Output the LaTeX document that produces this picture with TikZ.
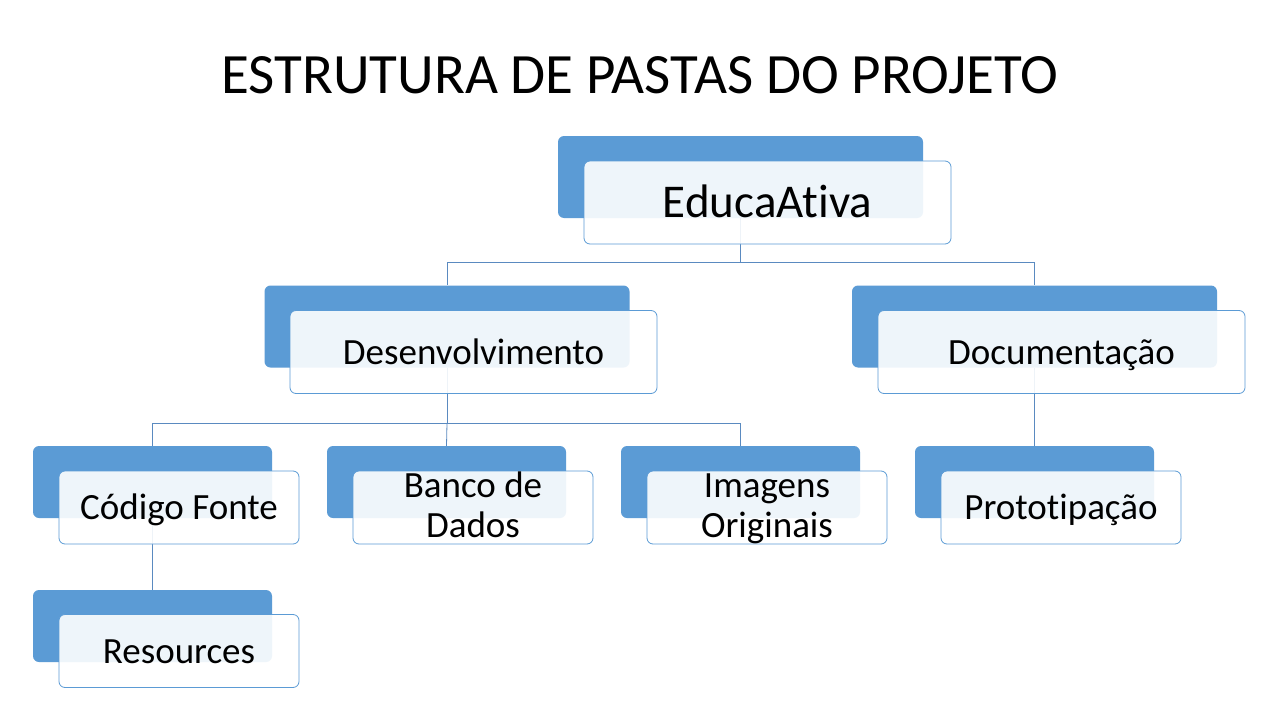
\documentclass[tikz,border=0pt]{standalone}
\usepackage{fontspec}
\setmainfont{Carlito}[Ligatures=CommonOff]
\definecolor{backblue}{HTML}{5B9BD5}
\definecolor{linecol}{HTML}{5A8AC0}
\begin{document}
\begin{tikzpicture}[x=1pt,y=-1pt,
  backbox/.style={rectangle, rounded corners=6pt, fill=backblue, draw=none, inner sep=0pt},
  frontbox/.style={rectangle, rounded corners=6pt, fill=white, fill opacity=0.9, text opacity=1, draw=backblue, line width=0.8pt, inner sep=0pt, align=center, font=\fontsize{37}{40.5}\selectfont},
  oneline/.style={text height=31pt, text depth=7pt},
  twoline/.style={inner ysep=-8pt},
  big/.style={minimum width=365pt, minimum height=82pt},
  bigf/.style={minimum width=367pt, minimum height=83pt},
  small/.style={minimum width=239pt, minimum height=72pt},
  smallf/.style={minimum width=240pt, minimum height=73pt},
  conn/.style={draw=linecol, line width=0.8pt}]
\useasboundingbox (0,0) rectangle (1280,720);
\fill[white] (0,0) rectangle (1280,720);
\node[anchor=base, font=\fontsize{57}{62}\selectfont] (title) at (640,93) {ESTRUTURA DE PASTAS DO PROJETO};
% back boxes
\node[backbox, big] (edub) at (740.5,177) {};
\node[backbox, big] (devb) at (447,326.5) {};
\node[backbox, big] (docb) at (1034.5,326.5) {};
\node[backbox, small] (codb) at (152.5,482) {};
\node[backbox, small] (banb) at (446.5,482) {};
\node[backbox, small] (imgb) at (740.5,482) {};
\node[backbox, small] (prob) at (1034.5,482) {};
\node[backbox, small] (resb) at (152.5,626) {};
% connectors
\coordinate (j1) at (740.5,262);
\coordinate (j2) at (447,423);
\draw[conn] (edub.south) -- (edub.south |- j1) -| (devb.north);
\draw[conn] (edub.south |- j1) -| (docb.north);
\draw[conn] (devb.south) -- (devb.south |- j2) -| (codb.north);
\draw[conn] (devb.south |- j2) -- (banb.north);
\draw[conn] (devb.south |- j2) -| (imgb.north);
\draw[conn] (docb.south) -- (prob.north);
\draw[conn] (codb.south) -- (resb.north);
% front boxes
\node[frontbox, bigf, font=\fontsize{47}{50}\selectfont, text height=38pt, text depth=9pt] (edu) at (767.5,202.5) {EducaAtiva};
\node[frontbox, bigf, oneline] (dev) at (473.5,352) {Desenvolvimento};
\node[frontbox, bigf, oneline] (doc) at (1061.5,352) {Documentação};
\node[frontbox, smallf, oneline] (cod) at (179,507.5) {Código Fonte};
\node[frontbox, smallf, twoline] (ban) at (473,507.5) {\rule{0pt}{34pt}Banco de\\Dados\rule[-14pt]{0pt}{14pt}};
\node[frontbox, smallf, twoline] (img) at (767,507.5) {\rule{0pt}{34pt}Imagens\\Originais\rule[-14pt]{0pt}{14pt}};
\node[frontbox, smallf, oneline] (pro) at (1061,507.5) {Prototipação};
\node[frontbox, smallf, oneline] (res) at (179,651) {Resources};
\end{tikzpicture}
\end{document}
